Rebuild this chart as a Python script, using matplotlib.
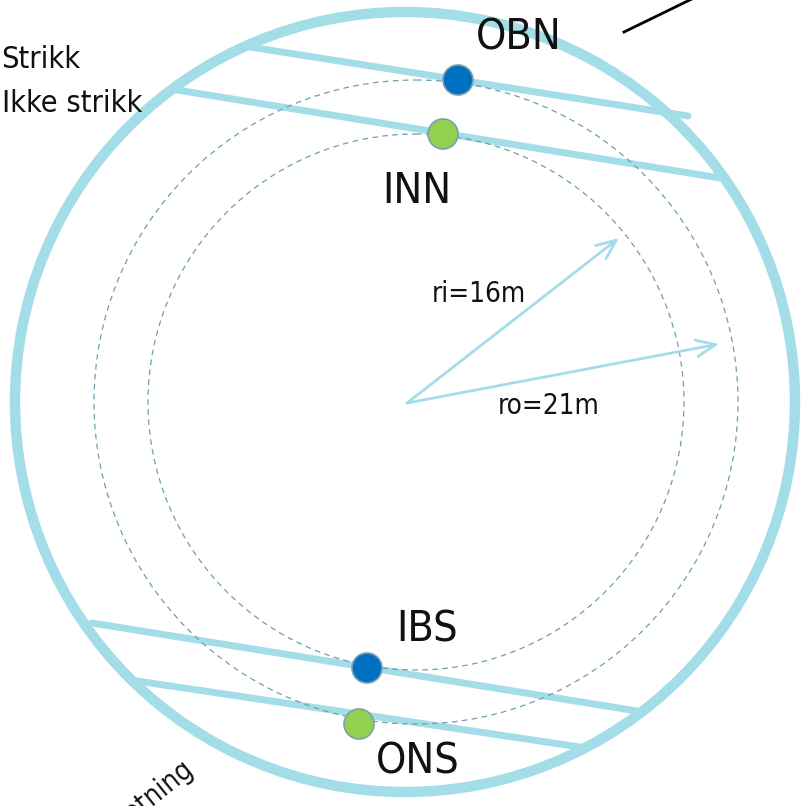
import matplotlib
matplotlib.use('Agg')
import matplotlib.pyplot as plt
from matplotlib.patches import Circle

# ── Data (pixel coordinates, y grows downward) ───────────────
ring_center = (405, 402)
ring_radius = 390

lane_center = (416, 402)
lane_radii = [268, 322]          # inner (ri) and outer (ro) dashed circles

# chords: (x0, y0, x1, y1)
chords = [
    (250, 47, 688, 116),
    (177, 90, 720, 178),
    (92, 623, 637, 711),
    (137, 681, 580, 747),
]

# stations
station_names = ['OBN', 'INN', 'IBS', 'ONS']
station_x = [458, 443, 367, 359]
station_y = [80, 134, 668, 724]
station_colors = ['#0070C0', '#92D050', '#0070C0', '#92D050']
label_x = [519, 417, 427, 418]
label_y = [50, 203, 642, 774]

# radius arrows
arrow_origin = (407, 403)
arrow_tips = [(619, 238), (719, 344)]
arrow_labels = ['ri=16m', 'ro=21m']
arrow_label_pos = [(479, 302), (549, 414)]

legend_labels = ['Strikk', 'Ikke strikk']
legend_left = [1, 2]
legend_base = [68, 112]

LIGHT = '#A3DDE8'
DASH = '#6E9FAE'
TXT = dict(family='DejaVu Sans', stretch='condensed', color='#111111')

fig = plt.figure(figsize=(8.08, 8.06), dpi=100)
ax = fig.add_axes([0, 0, 1, 1])
ax.set_xlim(0, 808)
ax.set_ylim(806, 0)
ax.axis('off')

# big ring
ax.add_patch(Circle(ring_center, ring_radius, fill=False, ec=LIGHT, lw=7.5))

# dashed lane circles
for r in lane_radii:
    ax.add_patch(Circle(lane_center, r, fill=False, ec=DASH, lw=0.9,
                        linestyle=(0, (4.5, 3.5)), zorder=3))

# chords
for x0, y0, x1, y1 in chords:
    ax.plot([x0, x1], [y0, y1], color=LIGHT, lw=5, solid_capstyle='round', zorder=2)

# stations
for name, x, y, c, lx, ly in zip(station_names, station_x, station_y,
                                  station_colors, label_x, label_y):
    ax.add_patch(Circle((x, y), 15, fc=c, ec='#7C9FAF', lw=1.2, zorder=4))
    ax.text(lx, ly, name, ha='center', va='baseline', fontsize=31, **TXT)

# radius arrows
for tip, lab, (tx, ty) in zip(arrow_tips, arrow_labels, arrow_label_pos):
    ax.annotate('', xy=tip, xytext=arrow_origin,
                arrowprops=dict(arrowstyle='->,head_length=1.4,head_width=0.6',
                                color=LIGHT, lw=2, shrinkA=0, shrinkB=0))
    ax.text(tx, ty, lab, ha='center', va='baseline', fontsize=20, **TXT)

# legend texts
for lab, xl, yb in zip(legend_labels, legend_left, legend_base):
    ax.text(xl, yb, lab, ha='left', va='baseline', fontsize=22, **TXT)

# direction text, bottom left (runs off the picture as in the original)
ax.text(195, 771, 'Kjøreretning', ha='right', va='baseline', fontsize=20,
        rotation=39, rotation_mode='anchor', **TXT)

# black line top right
ax.plot([624, 700], [32, -5], color='black', lw=2)

fig.savefig('out.png', dpi=100)
